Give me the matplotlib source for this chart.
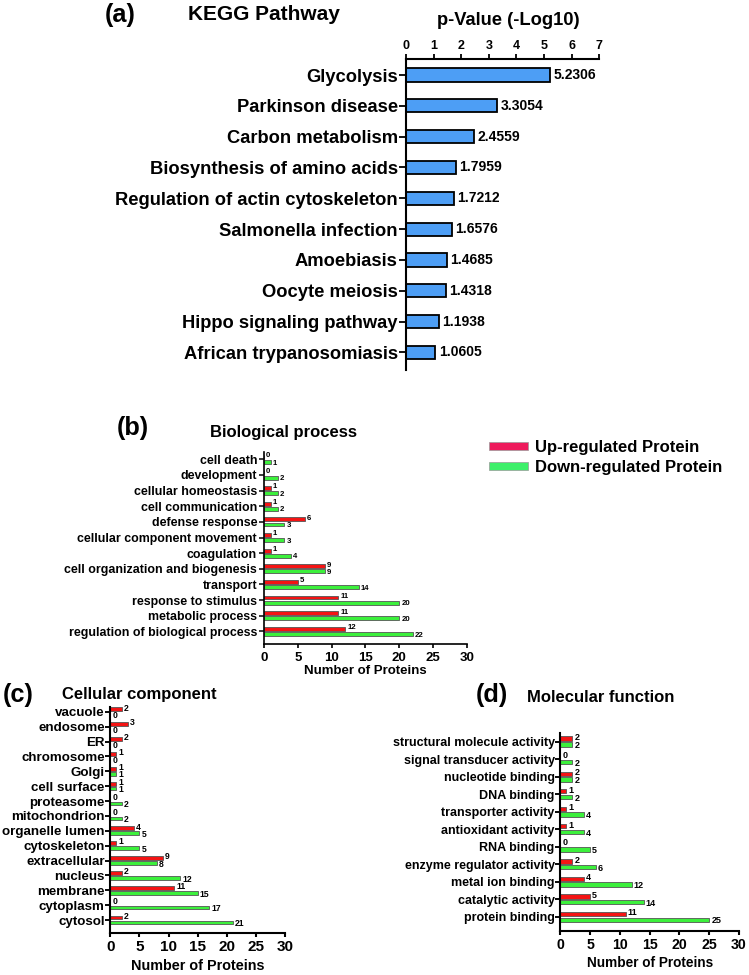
import numpy as np
import matplotlib
matplotlib.use('Agg')
import matplotlib.pyplot as plt
from matplotlib.patches import Patch

plt.rcParams['font.family'] = ['Liberation Sans', 'DejaVu Sans']
plt.rcParams['font.weight'] = 'bold'

# (a) KEGG
kegg_terms = ['Glycolysis', 'Parkinson disease', 'Carbon metabolism',
              'Biosynthesis of amino acids', 'Regulation of actin cytoskeleton',
              'Salmonella infection', 'Amoebiasis', 'Oocyte meiosis',
              'Hippo signaling pathway', 'African trypanosomiasis']
kegg_pval = [5.2306, 3.3054, 2.4559, 1.7959, 1.7212, 1.6576, 1.4685, 1.4318, 1.1938, 1.0605]

# (b) Biological process
bp_terms = ['cell death', 'development', 'cellular homeostasis', 'cell communication',
            'defense response', 'cellular component movement', 'coagulation',
            'cell organization and biogenesis', 'transport', 'response to stimulus',
            'metabolic process', 'regulation of biological process']
bp_up = [0, 0, 1, 1, 6, 1, 1, 9, 5, 11, 11, 12]
bp_down = [1, 2, 2, 2, 3, 3, 4, 9, 14, 20, 20, 22]

# (c) Cellular component
cc_terms = ['vacuole', 'endosome', 'ER', 'chromosome', 'Golgi', 'cell surface',
            'proteasome', 'mitochondrion', 'organelle lumen', 'cytoskeleton',
            'extracellular', 'nucleus', 'membrane', 'cytoplasm', 'cytosol']
cc_up = [2, 3, 2, 1, 1, 1, 0, 0, 4, 1, 9, 2, 11, 0, 2]
cc_down = [0, 0, 0, 0, 1, 1, 2, 2, 5, 5, 8, 12, 15, 17, 21]

# (d) Molecular function
mf_terms = ['structural molecule activity', 'signal transducer activity',
            'nucleotide binding', 'DNA binding', 'transporter activity',
            'antioxidant activity', 'RNA binding', 'enzyme regulator activity',
            'metal ion binding', 'catalytic activity', 'protein binding']
mf_up = [2, 0, 2, 1, 1, 1, 0, 2, 4, 5, 11]
mf_down = [2, 2, 2, 2, 4, 4, 5, 6, 12, 14, 25]

RED = '#F41414'
GREEN = '#3CF03C'
BLUE = '#4D9EF5'

W, H = 749, 975
fig = plt.figure(figsize=(W / 100, H / 100), dpi=100)


def px_rect(l, t, r, b):
    return [l / W, 1 - b / H, (r - l) / W, (b - t) / H]


def put(x, y, s, size):
    fig.text(x / W, 1 - y / H, s, ha='center', va='center', fontsize=size, fontweight='bold')


# ---- panel (a)
ax = fig.add_axes(px_rect(406, 59.3, 599.3, 370))
ya = np.arange(len(kegg_terms))
ax.barh(ya, kegg_pval, height=0.43, color=BLUE, edgecolor='black', linewidth=1.3)
for i, v in enumerate(kegg_pval):
    ax.annotate(f'{v:.4f}', (v, i), xytext=(2.5, 0), textcoords='offset points',
                ha='left', va='center', fontsize=10)
ax.set_xlim(0, 7)
ax.set_ylim(9.57, -0.51)
ax.set_xticks(range(0, 8))
ax.set_yticks(ya, kegg_terms)
ax.xaxis.tick_top()
for s in ['right', 'bottom']:
    ax.spines[s].set_visible(False)
for s in ['left', 'top']:
    ax.spines[s].set_linewidth(1.5)
ax.tick_params(axis='x', length=3.5, width=1.3, labelsize=9, pad=2)
ax.tick_params(axis='y', length=5, width=1.3, labelsize=13.2, pad=1)
ax.set_xlabel('p-Value (-Log10)', fontsize=13.2, fontweight='bold')
ax.xaxis.set_label_position('top')
ax.xaxis.set_label_coords(508 / W, 1 - 20.7 / H, transform=fig.transFigure)
ax.xaxis.label.set_va('center')
put(120.5, 15, '(a)', 18.3)
put(264, 15, 'KEGG Pathway', 15)


def go_panel(rect, terms, up, down, ylim, lab_fs, tick_fs, val_fs, val_dy, xlab_fs,
             xlab_xy, lw, ylen, ypad):
    ax = fig.add_axes(px_rect(*rect))
    y = np.arange(len(terms))
    h, off = 0.25, 0.165
    ax.barh(y - off, up, height=h, color=RED, edgecolor='#555555', linewidth=0.6)
    ax.barh(y + off, down, height=h, color=GREEN, edgecolor='#555555', linewidth=0.6)
    for yi, u, d in zip(y, up, down):
        ax.annotate(str(u), (u, yi - off), xytext=(1.5, val_dy), textcoords='offset points',
                    ha='left', va='center', fontsize=val_fs)
        ax.annotate(str(d), (d, yi + off), xytext=(1.5, -val_dy), textcoords='offset points',
                    ha='left', va='center', fontsize=val_fs)
    ax.set_xlim(0, 30)
    ax.set_xticks(range(0, 31, 5))
    ax.set_ylim(*ylim)
    ax.set_yticks(y, terms)
    for s in ['right', 'top']:
        ax.spines[s].set_visible(False)
    for s in ['left', 'bottom']:
        ax.spines[s].set_linewidth(lw)
    ax.tick_params(axis='x', length=3, width=lw, labelsize=tick_fs, pad=2.5)
    ax.tick_params(axis='y', length=ylen, width=lw * 0.9, labelsize=lab_fs, pad=ypad)
    ax.set_xlabel('Number of Proteins', fontsize=xlab_fs, fontweight='bold')
    ax.xaxis.set_label_coords(xlab_xy[0] / W, 1 - xlab_xy[1] / H, transform=fig.transFigure)
    ax.xaxis.label.set_va('center')
    return ax


axb = go_panel((264, 451.7, 466.7, 644), bp_terms, bp_up, bp_down, (11.81, -0.49),
               8.9, 9.5, 5.6, 0.8, 9.5, (365.5, 671), 1.2, 3.5, 1.5)
put(132.5, 428.3, '(b)', 18.3)
put(283, 432.3, 'Biological process', 12)

axc = go_panel((110.3, 706.7, 285, 932.7), cc_terms, cc_up, cc_down, (14.85, -0.34),
               9.6, 11, 6.2, 0.9, 10.4, (198, 966), 1.5, 3.5, 0.5)
put(18, 695, '(c)', 18.3)
put(139.5, 695, 'Cellular component', 12)

axd = go_panel((560.3, 733.3, 739, 930.7), mf_terms, mf_up, mf_down, (10.79, -0.47),
               9, 10.2, 6.5, 0.8, 9.8, (650, 963), 1.5, 3.5, 0.5)
put(491.5, 695, '(d)', 18.3)
put(601, 697, 'Molecular function', 12)

handles = [Patch(facecolor='#EE1A5C', edgecolor='#999999', linewidth=0.5),
           Patch(facecolor='#3DF06A', edgecolor='#999999', linewidth=0.5)]
fig.legend(handles, ['Up-regulated Protein', 'Down-regulated Protein'],
           loc='upper left', bbox_to_anchor=(489 / W, 1 - 440 / H), frameon=False,
           fontsize=12, handlelength=2.34, handleheight=0.39, handletextpad=0.42,
           labelspacing=0.3, borderpad=0, borderaxespad=0)

fig.savefig('out.png', dpi=100)
